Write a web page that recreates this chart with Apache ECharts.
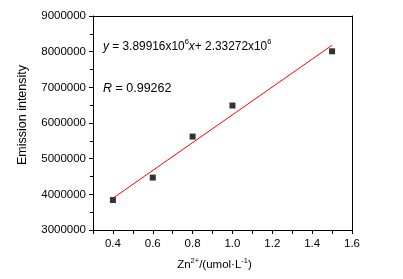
<!DOCTYPE html>
<html><head><meta charset="utf-8">
<script src="https://cdn.jsdelivr.net/npm/echarts@6/dist/echarts.min.js"></script>
<style>html,body{margin:0;padding:0;background:#fff}#c{width:403px;height:279px}</style>
</head><body><div id="c"></div>
<script>
var concentrations = [0.4, 0.6, 0.8, 1.0, 1.5];
var intensities = [3840000, 4470000, 5620000, 6490000, 8010000];
var fitX = [0.4, 1.5];
var fitY = [3890000, 8180000];
var xTicks = {min: 0.3, max: 1.6, interval: 0.1};
var yTicks = {min: 3000000, max: 9000000, interval: 1000000};

var font = 'Liberation Sans, Arial, sans-serif';
var chart = echarts.init(document.getElementById('c'), null, {renderer: 'canvas'});
var scatterData = concentrations.map(function(x, i){ return [x, intensities[i]]; });
var fitData = fitX.map(function(x, i){ return [x, fitY[i]]; });

chart.setOption({
  animation: false,
  backgroundColor: '#fff',
  grid: {left: 93, right: 51, top: 16, bottom: 49, containLabel: false},
  xAxis: [{
    type: 'value', min: xTicks.min, max: xTicks.max, interval: xTicks.interval,
    axisLine: {lineStyle: {color: '#000', width: 1}},
    axisTick: {show: true, length: 4, lineStyle: {color: '#000'}},
    splitLine: {show: false},
    axisLabel: {
      color: '#000', fontFamily: font, fontSize: 11.5, margin: 8,
      formatter: function(v){ var t = Math.round(v * 10); return (t % 2 === 0) ? (t / 10).toFixed(1) : ''; }
    },
    name: '{a|Zn}{s|2+}{a|/(umol·L}{s|-1}{a|)}',
    nameLocation: 'middle', nameGap: 27,
    nameTextStyle: {
      padding: [0, 16, 0, 0],
      rich: {
        a: {fontFamily: font, fontSize: 11.5, color: '#000', verticalAlign: 'bottom', lineHeight: 14},
        s: {fontFamily: font, fontSize: 7.5, color: '#000', verticalAlign: 'top', lineHeight: 14, padding: [0, 0, 6, 0]}
      }
    }
  }, {
    type: 'value', position: 'top', min: xTicks.min, max: xTicks.max, interval: xTicks.interval,
    axisLine: {show: true, lineStyle: {color: '#000', width: 1}},
    axisTick: {show: false}, axisLabel: {show: false}, splitLine: {show: false}
  }],
  yAxis: [{
    type: 'value', min: yTicks.min, max: yTicks.max, interval: yTicks.interval,
    axisLine: {show: true, lineStyle: {color: '#000', width: 1}},
    axisTick: {show: true, length: 4, lineStyle: {color: '#000'}},
    minorTick: {show: true, splitNumber: 2, length: 3, lineStyle: {color: '#000'}},
    splitLine: {show: false},
    axisLabel: {color: '#000', fontFamily: font, fontSize: 11.5, margin: 7,
      formatter: function(v){ return String(Math.round(v)); }},
    name: 'Emission intensity', nameLocation: 'middle', nameGap: 64,
    nameTextStyle: {color: '#000', fontFamily: font, fontSize: 12.5, padding: [0, 0, 0, 16]}
  }, {
    type: 'value', position: 'right', min: yTicks.min, max: yTicks.max, interval: yTicks.interval,
    axisLine: {show: true, lineStyle: {color: '#000', width: 1}},
    axisTick: {show: false}, axisLabel: {show: false}, splitLine: {show: false}
  }],
  series: [{
    type: 'line', data: fitData, symbol: 'none', silent: true,
    lineStyle: {color: '#ff0000', width: 1}
  }, {
    type: 'scatter', data: scatterData, symbol: 'rect', symbolSize: 6,
    itemStyle: {color: '#000'}
  }],
  graphic: [{
    type: 'text', left: 103, top: 38,
    style: {
      text: '{i|y}{a| = 3.89916x10}{s|6}{i|x}{a|+ 2.33272x10}{s|6}',
      rich: {
        a: {fontFamily: font, fontSize: 11.9, fill: '#000', verticalAlign: 'bottom', lineHeight: 15},
        i: {fontFamily: font, fontSize: 11.9, fill: '#000', fontStyle: 'italic', verticalAlign: 'bottom', lineHeight: 15},
        s: {fontFamily: font, fontSize: 7.5, fill: '#000', verticalAlign: 'top', lineHeight: 15}
      }
    }
  }, {
    type: 'text', left: 103, top: 82,
    style: {
      text: '{i|R}{a| = 0.99262}',
      rich: {
        a: {fontFamily: font, fontSize: 12.5, fill: '#000'},
        i: {fontFamily: font, fontSize: 12.5, fill: '#000', fontStyle: 'italic'}
      }
    }
  }]
});
</script>
</body></html>
